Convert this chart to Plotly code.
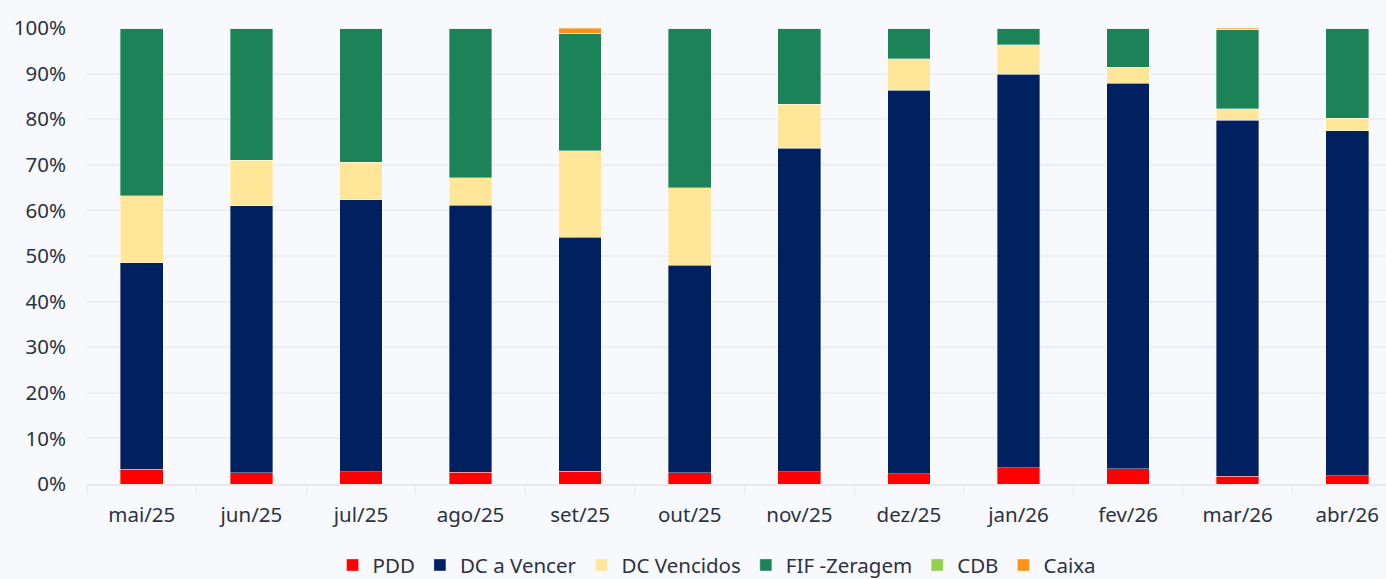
import plotly.graph_objects as go

categories = ["mai/25", "jun/25", "jul/25", "ago/25", "set/25", "out/25",
              "nov/25", "dez/25", "jan/26", "fev/26", "mar/26", "abr/26"]

pdd = [3.2, 2.5, 2.7, 2.6, 2.8, 2.5, 2.7, 2.3, 3.6, 3.3, 1.7, 1.8]
dc_a_vencer = [45.3, 58.5, 59.6, 58.5, 51.3, 45.5, 70.9, 84.0, 86.3, 84.6, 78.1, 75.7]
dc_vencidos = [14.7, 10.0, 8.3, 6.1, 19.0, 17.0, 9.7, 7.0, 6.4, 3.5, 2.5, 2.7]
fif_zeragem = [36.7, 28.9, 29.3, 32.7, 25.7, 34.9, 16.6, 6.6, 3.6, 8.5, 17.4, 19.7]
cdb = [0, 0, 0, 0, 0, 0, 0, 0, 0, 0, 0, 0]
caixa = [0.1, 0.1, 0.1, 0.1, 1.2, 0.1, 0.1, 0.1, 0.1, 0.1, 0.3, 0.1]

series = [
    ("PDD", pdd, "#ff0000"),
    ("DC a Vencer", dc_a_vencer, "#002060"),
    ("DC Vencidos", dc_vencidos, "#ffe699"),
    ("FIF -Zeragem", fif_zeragem, "#1c8358"),
    ("CDB", cdb, "#92d050"),
    ("Caixa", caixa, "#ff9118"),
]

fig = go.Figure()
for name, vals, color in series:
    fig.add_trace(go.Bar(
        x=categories, y=[v / 100 for v in vals], name=name,
        marker=dict(color=color, line=dict(color="rgba(255,255,255,0.45)", width=0.8)),
    ))

bg = "#f8f9fd"
font_color = "#2b3242"
fig.update_layout(
    barmode="stack",
    bargap=0.61,
    width=1386, height=579,
    paper_bgcolor=bg, plot_bgcolor=bg,
    margin=dict(l=87, r=0, t=28, b=95, autoexpand=False),
    font=dict(family="Noto Sans, Open Sans, sans-serif", size=20.5, color=font_color),
    showlegend=True,
    legend=dict(orientation="h", xref="container", yref="container",
                x=0.517, xanchor="center", y=0.024, yanchor="middle",
                font=dict(size=20.5, color=font_color), itemwidth=30,
                traceorder="normal", bgcolor="rgba(0,0,0,0)"),
    xaxis=dict(
        type="category", range=[-0.5, 11.354],
        showgrid=False, showline=True, linecolor="#e8e8ea", linewidth=1.5,
        ticks="outside", tickson="boundaries", ticklen=8, tickcolor="#e8e8ea",
        tickfont=dict(size=20.5, color=font_color), ticklabelstandoff=12,
    ),
    yaxis=dict(
        range=[0, 1.0], tickformat=".0%", dtick=0.1,
        showgrid=True, gridcolor="#eeeff0", gridwidth=1.5,
        zeroline=False, showline=False,
        tickfont=dict(size=20.5, color=font_color), ticklabelstandoff=20,
    ),
)

fig.write_html(
    "out.html",
    config={"displayModeBar": False},
    post_script="document.body.style.margin='0';document.body.style.background='%s';" % bg,
)
